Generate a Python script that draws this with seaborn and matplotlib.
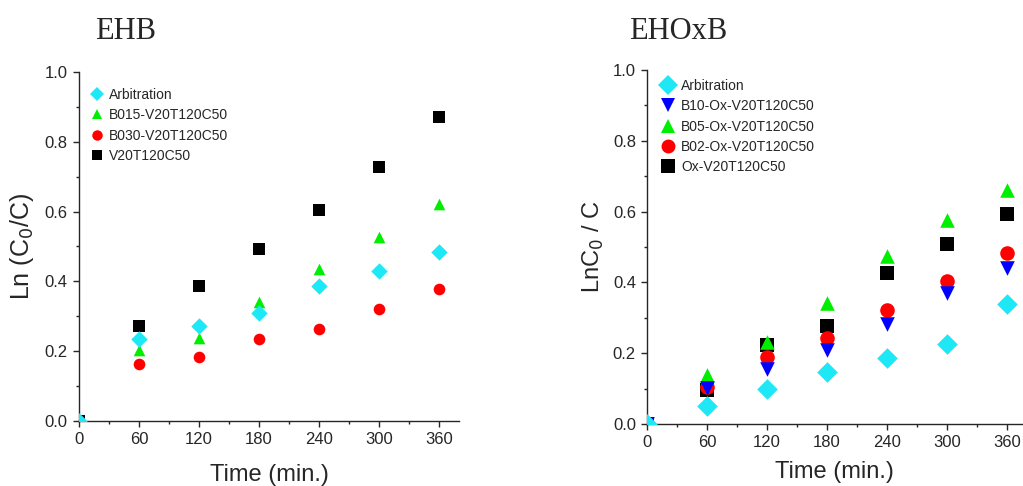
import pandas as pd
import numpy as np
import matplotlib.pyplot as plt
import seaborn as sns

time = [0, 60, 120, 180, 240, 300, 360]

# EHB panel
ehb_arbitration = [0.0, 0.234, 0.272, 0.310, 0.387, 0.430, 0.484]
ehb_b015 = [0.0, 0.203, 0.239, 0.341, 0.435, 0.527, 0.621]
ehb_b030 = [0.0, 0.164, 0.184, 0.234, 0.265, 0.320, 0.377]
ehb_v20 = [0.0, 0.272, 0.387, 0.494, 0.605, 0.729, 0.871]

# EHOxB panel
ox_arbitration = [0.0, 0.052, 0.099, 0.146, 0.187, 0.225, 0.338]
ox_b10 = [0.0, 0.102, 0.156, 0.210, 0.282, 0.370, 0.440]
ox_b05 = [0.0, 0.137, 0.232, 0.342, 0.474, 0.575, 0.660]
ox_b02 = [0.0, 0.104, 0.189, 0.244, 0.323, 0.404, 0.484]
ox_ox = [0.0, 0.097, 0.222, 0.276, 0.427, 0.508, 0.593]

ehb_series = {"Arbitration": ehb_arbitration, "B015-V20T120C50": ehb_b015,
              "B030-V20T120C50": ehb_b030, "V20T120C50": ehb_v20}
ox_series = {"Arbitration": ox_arbitration, "B10-Ox-V20T120C50": ox_b10,
             "B05-Ox-V20T120C50": ox_b05, "B02-Ox-V20T120C50": ox_b02,
             "Ox-V20T120C50": ox_ox}

def to_long(series):
    rows = []
    for name, vals in series.items():
        for t, v in zip(time, vals):
            rows.append({"time": t, "value": v, "sample": name})
    return pd.DataFrame(rows)

df_ehb = to_long(ehb_series)
df_ox = to_long(ox_series)

cyan = "#1ee8f5"
colors = {"Arbitration": cyan, "B015-V20T120C50": "#00ee00", "B030-V20T120C50": "#ff0000",
          "V20T120C50": "#000000", "B10-Ox-V20T120C50": "#0000ff",
          "B05-Ox-V20T120C50": "#00ee00", "B02-Ox-V20T120C50": "#ff0000",
          "Ox-V20T120C50": "#000000"}
markers = {"Arbitration": "D", "B015-V20T120C50": "^", "B030-V20T120C50": "o",
           "V20T120C50": "s", "B10-Ox-V20T120C50": "v", "B05-Ox-V20T120C50": "^",
           "B02-Ox-V20T120C50": "o", "Ox-V20T120C50": "s"}

sns.set_style("ticks")
plt.rcParams["font.family"] = ["Liberation Sans", "DejaVu Sans"]

fig = plt.figure(figsize=(10.23, 4.86), dpi=100)
ax1 = fig.add_axes([0.0772, 0.1337, 0.3715, 0.7182])
ax2 = fig.add_axes([0.6325, 0.1276, 0.3666, 0.7284])

def draw(ax, df, series, size, leg_size, anchor):
    # last series drawn first so Arbitration ends up on top
    for k in reversed(list(series)):
        sns.scatterplot(data=df[df["sample"] == k], x="time", y="value",
                        color=colors[k], marker=markers[k],
                        s=size, linewidth=0, ax=ax, legend=False, zorder=3)
    handles = [plt.Line2D([], [], ls="", marker=markers[k], color=colors[k],
                          markersize=leg_size, markeredgewidth=0) for k in series]
    ax.legend(handles, list(series), loc="upper left", bbox_to_anchor=anchor,
              frameon=False, fontsize=10, handletextpad=0.3, labelspacing=0.45,
              handlelength=1.2, borderaxespad=0)
    ax.set_ylim(0, 1.0)
    ax.set_xticks(time)
    ax.set_xticks(np.arange(30, 380, 60), minor=True)
    ax.set_yticks([0.0, 0.2, 0.4, 0.6, 0.8, 1.0])
    ax.set_yticks([0.1, 0.3, 0.5, 0.7, 0.9], minor=True)
    ax.yaxis.set_major_formatter(plt.FormatStrFormatter("%.1f"))
    ax.tick_params(which="major", direction="out", length=4, width=1, labelsize=12, pad=4)
    ax.tick_params(which="minor", direction="out", length=2.5, width=1)
    sns.despine(ax=ax)
    for sp in ["left", "bottom"]:
        ax.spines[sp].set_linewidth(1)

draw(ax1, df_ehb, ehb_series, 70, 7.5, (0.01, 0.97))
ax1.set_xlim(0, 380)
ax1.set_xlabel("Time (min.)", fontsize=17, labelpad=12)
ax1.set_ylabel("Ln (C$_0$/C)", fontsize=18, labelpad=6)

draw(ax2, df_ox, ox_series, 110, 10, (0.02, 0.99))
ax2.set_xlim(0, 375)
ax2.set_xlabel("Time (min.)", fontsize=17, labelpad=8)
ax2.set_ylabel("LnC$_0$ / C", fontsize=17, labelpad=5)

fig.text(0.093, 0.935, "EHB", family="Liberation Serif", fontsize=22, va="center")
fig.text(0.615, 0.935, "EHOxB", family="Liberation Serif", fontsize=22, va="center")

plt.savefig("out.png", dpi=100)
plt.close()
